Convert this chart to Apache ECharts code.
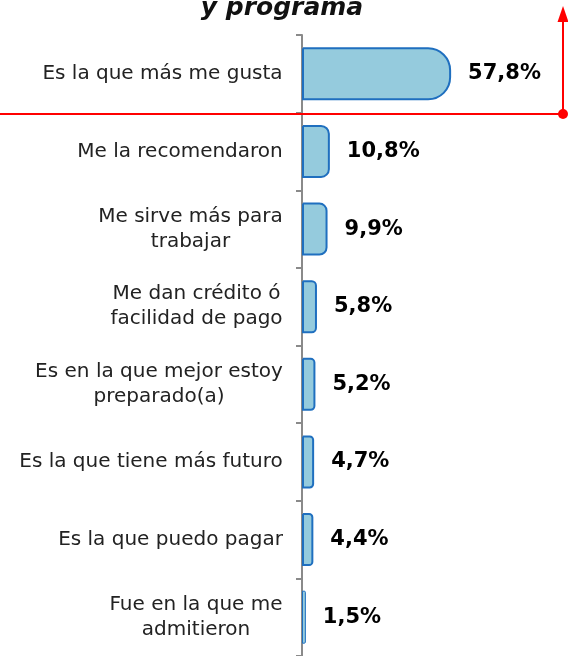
<!DOCTYPE html>
<html>
<head>
<meta charset="utf-8">
<script src="https://cdn.jsdelivr.net/npm/echarts@6/dist/echarts.min.js"></script>
<style>
  html, body { margin: 0; padding: 0; background: #fff; }
  #chart { width: 568px; height: 656px; }
</style>
</head>
<body>
<div id="chart"></div>
<script>
// --- Data ---
const titleText = 'y programa';
const categories = [
    'Es la que más me gusta',
    'Me la recomendaron',
    'Me sirve más para\ntrabajar',
    'Me dan crédito ó\nfacilidad de pago',
    'Es en la que mejor estoy\npreparado(a)',
    'Es la que tiene más futuro',
    'Es la que puedo pagar',
    'Fue en la que me\nadmitieron'
];
const values = [57.8, 10.8, 9.9, 5.8, 5.2, 4.7, 4.4, 1.5];

// --- Style ---
const labelFont = 'DejaVu Sans';
const labelSize = 20;
const xMax = 100;
const plotWidth = 258; // 568 - 302 - 8

// measure each wrapped label so its lines get centred inside the block (like Excel does)
const measureCtx = document.createElement('canvas').getContext('2d');
measureCtx.font = labelSize + 'px "' + labelFont + '"';
const richStyles = {};
categories.forEach((cat, i) => {
    const w = Math.max(...cat.split('\n').map(l => measureCtx.measureText(l).width));
    richStyles['c' + i] = {
        width: Math.ceil(w), align: 'center',
        fontFamily: labelFont, fontSize: labelSize, color: '#222', lineHeight: 25
    };
});

// flatter rounded ends on short bars (Excel rounded rectangle look)
const barData = values.map(v => {
    const len = v / xMax * plotWidth;
    const r = Math.min(22, len * 0.28);
    return { value: v, itemStyle: { borderRadius: [0, r, r, 0], borderWidth: len < 8 ? 1 : 2 } };
});

const chart = echarts.init(document.getElementById('chart'));

const option = {
    animation: false,
    title: {
        text: titleText,
        left: 277, top: -9,
        textAlign: 'center',
        textStyle: { fontFamily: labelFont, fontSize: 25, fontWeight: 'bold', fontStyle: 'italic', color: '#111' }
    },
    grid: { left: 302, right: 8, top: 35, bottom: -3, containLabel: false },
    xAxis: { type: 'value', min: 0, max: xMax, show: false },
    yAxis: {
        type: 'category',
        inverse: true,
        data: categories,
        axisLine: { show: true, lineStyle: { color: '#8a8a8a', width: 2 } },
        axisTick: { show: true, length: 6, lineStyle: { color: '#8a8a8a', width: 2 } },
        axisLabel: {
            margin: 19,
            align: 'right',
            formatter: (value, index) => value.split('\n').map(l => '{c' + index + '|' + l + '}').join('\n'),
            rich: richStyles
        }
    },
    series: [{
        type: 'bar',
        data: barData,
        barWidth: 53,
        itemStyle: {
            color: '#95cbdd',
            borderColor: '#1f6fbf'
        },
        label: {
            show: true,
            position: 'right',
            distance: 17,
            formatter: p => p.value.toFixed(1).replace('.', ',') + '%',
            fontFamily: labelFont,
            fontSize: 21,
            fontWeight: 'bold',
            color: '#000'
        }
    }],
    // red annotation marks drawn over the chart
    graphic: [
        { type: 'line', z: 100, shape: { x1: 0, y1: 114, x2: 563, y2: 114 }, style: { stroke: '#ff0000', lineWidth: 2 } },
        { type: 'line', z: 100, shape: { x1: 563, y1: 114, x2: 563, y2: 18 }, style: { stroke: '#ff0000', lineWidth: 2 } },
        { type: 'polygon', z: 100, shape: { points: [[557.5, 22], [568.5, 22], [563, 6]] }, style: { fill: '#ff0000' } },
        { type: 'circle', z: 100, shape: { cx: 563, cy: 114, r: 5 }, style: { fill: '#ff0000' } }
    ]
};
chart.setOption(option);
</script>
</body>
</html>
